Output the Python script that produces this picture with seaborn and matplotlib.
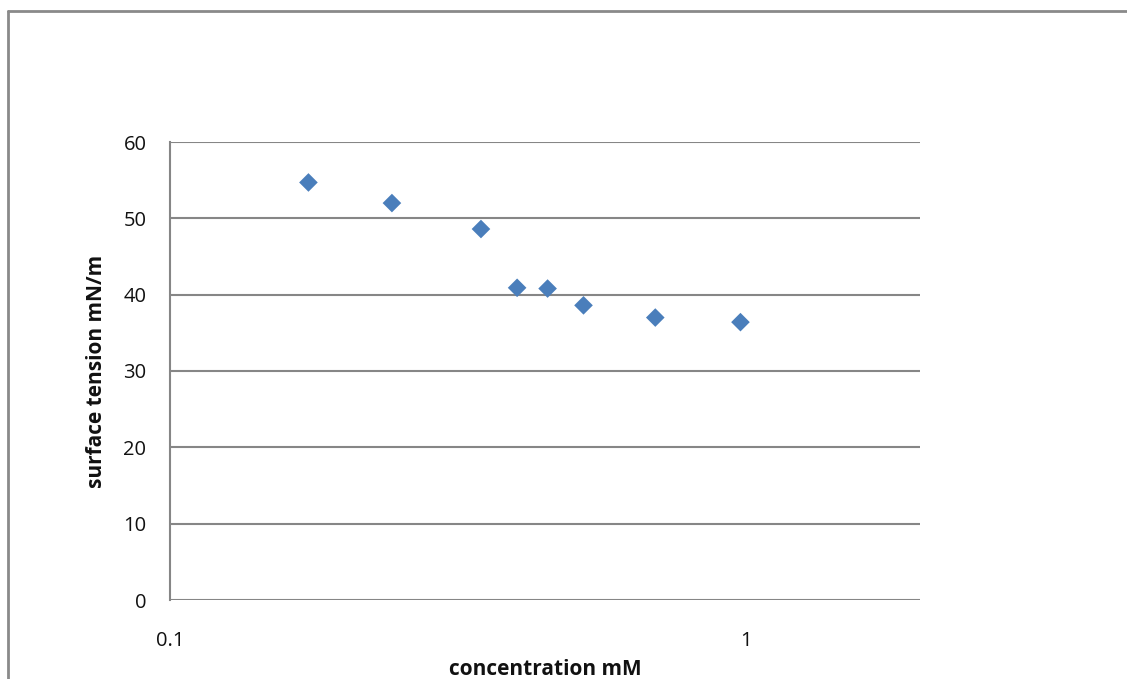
import matplotlib
matplotlib.use("Agg")
import matplotlib.pyplot as plt
import seaborn as sns
import pandas as pd
from matplotlib.lines import Line2D

concentration = [0.174, 0.243, 0.347, 0.401, 0.453, 0.523, 0.697, 0.980]
surface_tension = [54.7, 52.0, 48.6, 40.9, 40.8, 38.6, 37.0, 36.4]
y_ticks = [0, 10, 20, 30, 40, 50, 60]
x_ticks = [0.1, 1]
x_tick_labels = ["0.1", "1"]

sns.set_theme(style="white")
plt.rcParams['font.family'] = ['Open Sans', 'DejaVu Sans']

df = pd.DataFrame({"concentration mM": concentration,
                   "surface tension mN/m": surface_tension})

fig = plt.figure(figsize=(11.27, 6.79), dpi=100)
ax = fig.add_axes([170/1127, 1 - 600/679, 750/1127, 458/679])

sns.scatterplot(data=df, x="concentration mM", y="surface tension mN/m",
                marker="D", s=90, color="#4a7ebb", edgecolor="none", ax=ax,
                zorder=3)

ax.set_xscale("log")
ax.set_xlim(0.1, 2.01)
ax.set_ylim(0, 60)
ax.set_yticks(y_ticks)
ax.set_xticks(x_ticks)
ax.set_xticklabels(x_tick_labels)
ax.minorticks_off()
ax.tick_params(axis="y", length=0, pad=17, labelsize=14.5)
ax.tick_params(axis="x", length=0, pad=22, labelsize=14.5)
for t in ax.get_xticklabels() + ax.get_yticklabels():
    t.set_color("#111111")

ax.grid(axis="y", color="#868686", linewidth=1.5)
ax.grid(axis="x", visible=False)
for side in ["top", "right", "bottom"]:
    ax.spines[side].set_visible(False)
ax.spines["left"].set_color("#868686")
ax.spines["left"].set_linewidth(1.5)

ax.set_xlabel("concentration mM", fontweight="bold", fontsize=15, color="#111111")
ax.xaxis.label.set_verticalalignment("baseline")
ax.xaxis.set_label_coords(0.5, -75/458)
ax.set_ylabel("surface tension mN/m", fontweight="bold", fontsize=15,
              color="#111111", labelpad=12)

# outer chart frame (left and top visible)
fig.add_artist(Line2D([8/1127, 8/1127], [0, 1 - 11/679], color="#8a8a8a",
                      linewidth=2, transform=fig.transFigure))
fig.add_artist(Line2D([8/1127, 1], [1 - 11/679, 1 - 11/679], color="#8a8a8a",
                      linewidth=2, transform=fig.transFigure))

fig.savefig("out.png", dpi=100)
